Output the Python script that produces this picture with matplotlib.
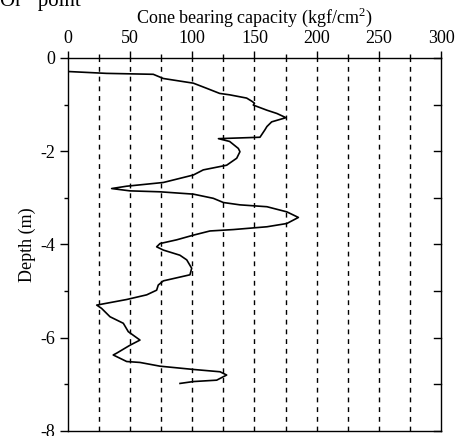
import numpy as np
import matplotlib.pyplot as plt

plt.rcParams['font.family'] = ['Liberation Serif', 'DejaVu Serif']
plt.rcParams['mathtext.fontset'] = 'custom'
plt.rcParams['mathtext.rm'] = 'Liberation Serif'
plt.rcParams['axes.unicode_minus'] = False

# cone bearing capacity (kgf/cm2) vs depth (m)
qc = [0, 31, 68.6, 76.7, 100.8, 111.5, 122, 130, 143.7, 148, 150, 149, 160, 168, 175.3,
      163.8, 160, 158.4, 154.4, 121, 130, 137, 138.3, 135.7, 127.6, 108.8, 100.8, 76.7,
      47.2, 35.1, 49.9, 74, 100.8, 116.9, 125, 138.3, 160, 176, 185.3, 176, 160, 133,
      114.2, 100.8, 87.4, 74, 71.3, 76.7, 90, 95.5, 99.5, 98.1, 76.7, 72.6, 71.3, 63.3,
      47.2, 23.1, 27, 33.8, 44.5, 48.5, 57.9, 49.9, 39.2, 36.4, 47.2, 57.9, 74, 100.8,
      122.3, 127.6, 119.6, 100.8, 90.1]
depth = [-0.29, -0.33, -0.35, -0.44, -0.54, -0.65, -0.76, -0.79, -0.86, -0.93, -0.97, -1.01, -1.12, -1.19, -1.28,
         -1.37, -1.47, -1.54, -1.70, -1.73, -1.79, -1.94, -2.01, -2.15, -2.30, -2.40, -2.51, -2.67,
         -2.75, -2.80, -2.85, -2.87, -2.92, -3.01, -3.10, -3.15, -3.19, -3.30, -3.42, -3.55, -3.62, -3.68,
         -3.71, -3.80, -3.90, -3.98, -4.05, -4.12, -4.23, -4.33, -4.51, -4.65, -4.78, -4.87, -4.98, -5.08,
         -5.18, -5.30, -5.37, -5.55, -5.69, -5.87, -6.05, -6.16, -6.33, -6.37, -6.51, -6.53, -6.61, -6.68,
         -6.73, -6.80, -6.91, -6.94, -6.98]
grid_x = np.arange(25, 300, 25)

fig = plt.figure(figsize=(4.6, 4.36), dpi=100)
ax = fig.add_axes([0.1478, 0.0115, 0.8109, 0.8555])

for gx in grid_x:
    ax.axvline(gx, color='black', lw=1.0, linestyle=(0, (3.5, 3.5)), zorder=1)

ax.plot(qc, depth, color='black', lw=1.2, zorder=2)

ax.set_xlim(0, 300)
ax.set_ylim(-8, 0)
ax.xaxis.tick_top()
ax.xaxis.set_label_position('top')
ax.set_xticks(np.arange(0, 301, 50))
ax.set_xticks(np.arange(25, 300, 50), minor=True)
ax.set_yticks(np.arange(-8, 1, 2))
ax.set_yticks(np.arange(-7, 0, 2), minor=True)
ax.tick_params(axis='x', which='major', direction='out', length=5, width=1, labelsize=13, pad=3)
ax.tick_params(axis='x', which='minor', direction='out', length=3, width=1)
ax.tick_params(axis='y', which='major', direction='out', length=6, width=1, labelsize=13, pad=3)
ax.tick_params(axis='y', which='minor', direction='out', length=3, width=1)

ax.set_xlabel('Cone bearing capacity (kgf/cm$^{2}$)', fontsize=13, labelpad=5)
ax.set_ylabel('Depth (m)', fontsize=13, labelpad=3)

# inward ticks on the right side
for yv in range(-8, 1):
    ax.plot([294, 300], [yv, yv], color='black', lw=1, clip_on=False, zorder=3)

for s in ax.spines.values():
    s.set_linewidth(1.0)

fig.text(0.0, 0.997, 'Or   point', fontsize=15, va='center', ha='left')

fig.savefig('out.png', dpi=100)
